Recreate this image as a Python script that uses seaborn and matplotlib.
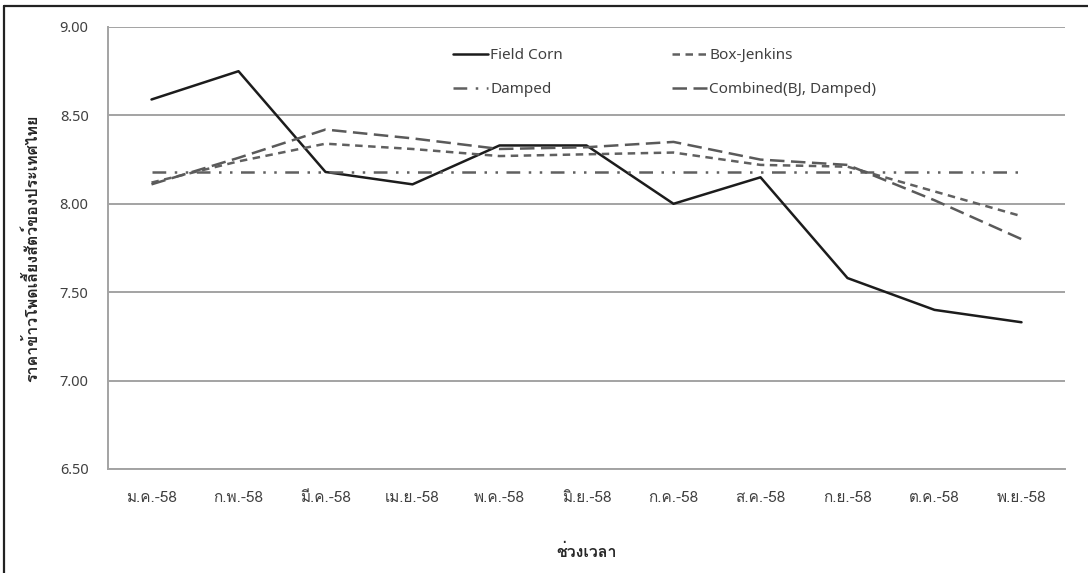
import matplotlib
matplotlib.use("Agg")
import matplotlib.pyplot as plt
from matplotlib import font_manager
from matplotlib.lines import Line2D
from matplotlib.ft2font import FT2Font
import pandas as pd
import seaborn as sns

# Monthly categories (Thai Buddhist-era year 2558)
months = ["ม.ค.-58", "ก.พ.-58", "มี.ค.-58", "เม.ย.-58", "พ.ค.-58", "มิ.ย.-58",
          "ก.ค.-58", "ส.ค.-58", "ก.ย.-58", "ต.ค.-58", "พ.ย.-58"]

# Field corn price and forecasts (baht/kg)
field_corn = [8.59, 8.75, 8.18, 8.11, 8.33, 8.33, 8.00, 8.15, 7.58, 7.40, 7.33]
box_jenkins = [8.12, 8.24, 8.34, 8.31, 8.27, 8.28, 8.29, 8.22, 8.21, 8.07, 7.93]
damped = [8.18, 8.18, 8.18, 8.18, 8.18, 8.18, 8.18, 8.18, 8.18, 8.18, 8.18]
combined = [8.11, 8.26, 8.42, 8.37, 8.31, 8.32, 8.35, 8.25, 8.22, 8.02, 7.80]

series_names = ["Field Corn", "Box-Jenkins", "Damped", "Combined(BJ, Damped)"]
yticks = [6.5, 7.0, 7.5, 8.0, 8.5, 9.0]

y_label = "ราคาข้าวโพดเลี้ยงสัตว์ของประเทศไทย"
x_label = "ช่วงเวลา"


def find_thai_font():
    """Return the name of an installed font that covers Thai script."""
    seen = set()
    for entry in font_manager.fontManager.ttflist:
        if entry.name in seen:
            continue
        seen.add(entry.name)
        try:
            cmap = FT2Font(entry.fname).get_charmap()
        except Exception:
            continue
        if 0x0E01 in cmap and 0x0E27 in cmap:
            return entry.name
    return None


sns.set_style("white")
thai = find_thai_font()
thai_families = ([thai] if thai else []) + ["DejaVu Sans"]
latin_families = ["Noto Sans", "DejaVu Sans"]
plt.rcParams["font.family"] = thai_families

df = pd.DataFrame({
    "month": months * 4,
    "idx": list(range(len(months))) * 4,
    "price": field_corn + box_jenkins + damped + combined,
    "series": sum([[n] * len(months) for n in series_names], []),
})

palette = {
    "Field Corn": "#1c1c1c",
    "Box-Jenkins": "#606060",
    "Damped": "#606060",
    "Combined(BJ, Damped)": "#5a5a5a",
}
dashes = {
    "Field Corn": "",
    "Box-Jenkins": (3.0, 2.2),
    "Damped": (5.5, 3.4, 1.0, 3.4, 1.0, 3.4),
    "Combined(BJ, Damped)": (5.8, 2.6),
}

fig = plt.figure(figsize=(10.88, 5.73), dpi=100)
ax = fig.add_axes([108 / 1088, 1 - 469 / 573, (1065 - 108) / 1088, (469 - 27) / 573])

sns.lineplot(data=df, x="idx", y="price", hue="series", style="series",
             hue_order=series_names, style_order=series_names,
             palette=palette, dashes=dashes, linewidth=1.8,
             legend=False, ax=ax, sort=False)

ax.set_xlim(-0.5, len(months) - 0.5)
ax.set_ylim(6.5, 9.0)
ax.set_yticks(yticks)
ax.set_yticklabels([f"{v:.2f}" for v in yticks], family=latin_families)
ax.set_xticks(range(len(months)))
ax.set_xticklabels(months)

grid_color = "#a3a3a3"
ax.yaxis.grid(True, color=grid_color, linewidth=1.4)
ax.xaxis.grid(False)
ax.set_axisbelow(True)
for side in ["top", "right"]:
    ax.spines[side].set_visible(False)
ax.spines["left"].set_color(grid_color)
ax.spines["left"].set_linewidth(1.4)
ax.spines["bottom"].set_color(grid_color)
ax.spines["bottom"].set_linewidth(1.4)

ax.tick_params(axis="x", length=0, labelsize=11, labelcolor="#404040", pad=16)
ax.tick_params(axis="y", length=0, labelsize=10.5, labelcolor="#404040", pad=14)

ax.set_xlabel(x_label, fontsize=11.5, fontweight="bold", color="#262626", labelpad=28)
ax.set_ylabel(y_label, fontsize=11.5, fontweight="bold", color="#262626", labelpad=14)

# Legend: two columns, filled row by row
lines_by_name = {n: l for n, l in zip(series_names, ax.get_lines())}
order = ["Field Corn", "Damped", "Box-Jenkins", "Combined(BJ, Damped)"]
handles = []
for n in order:
    src = lines_by_name[n]
    h = Line2D([], [], color=src.get_color(), linewidth=src.get_linewidth(),
               linestyle=src.get_linestyle())
    if dashes[n]:
        h.set_dashes(dashes[n])
    handles.append(h)
ax.legend(handles, order, ncol=2, frameon=False,
          prop={"family": latin_families, "size": 11},
          loc="upper left", bbox_to_anchor=((453 - 108) / 957, (469 - 48) / 442),
          handlelength=2.3, handletextpad=0.15, columnspacing=7.1,
          labelspacing=1.25, borderaxespad=0, borderpad=0,
          labelcolor="#404040")

# Outer chart frame (top and left edges)
fig.add_artist(Line2D([4 / 1088, 4 / 1088], [0, 1 - 6 / 573],
                      transform=fig.transFigure, color="#222222", linewidth=1.6))
fig.add_artist(Line2D([4 / 1088, 1], [1 - 6 / 573, 1 - 6 / 573],
                      transform=fig.transFigure, color="#222222", linewidth=1.6))

fig.savefig("out.png", dpi=100)
